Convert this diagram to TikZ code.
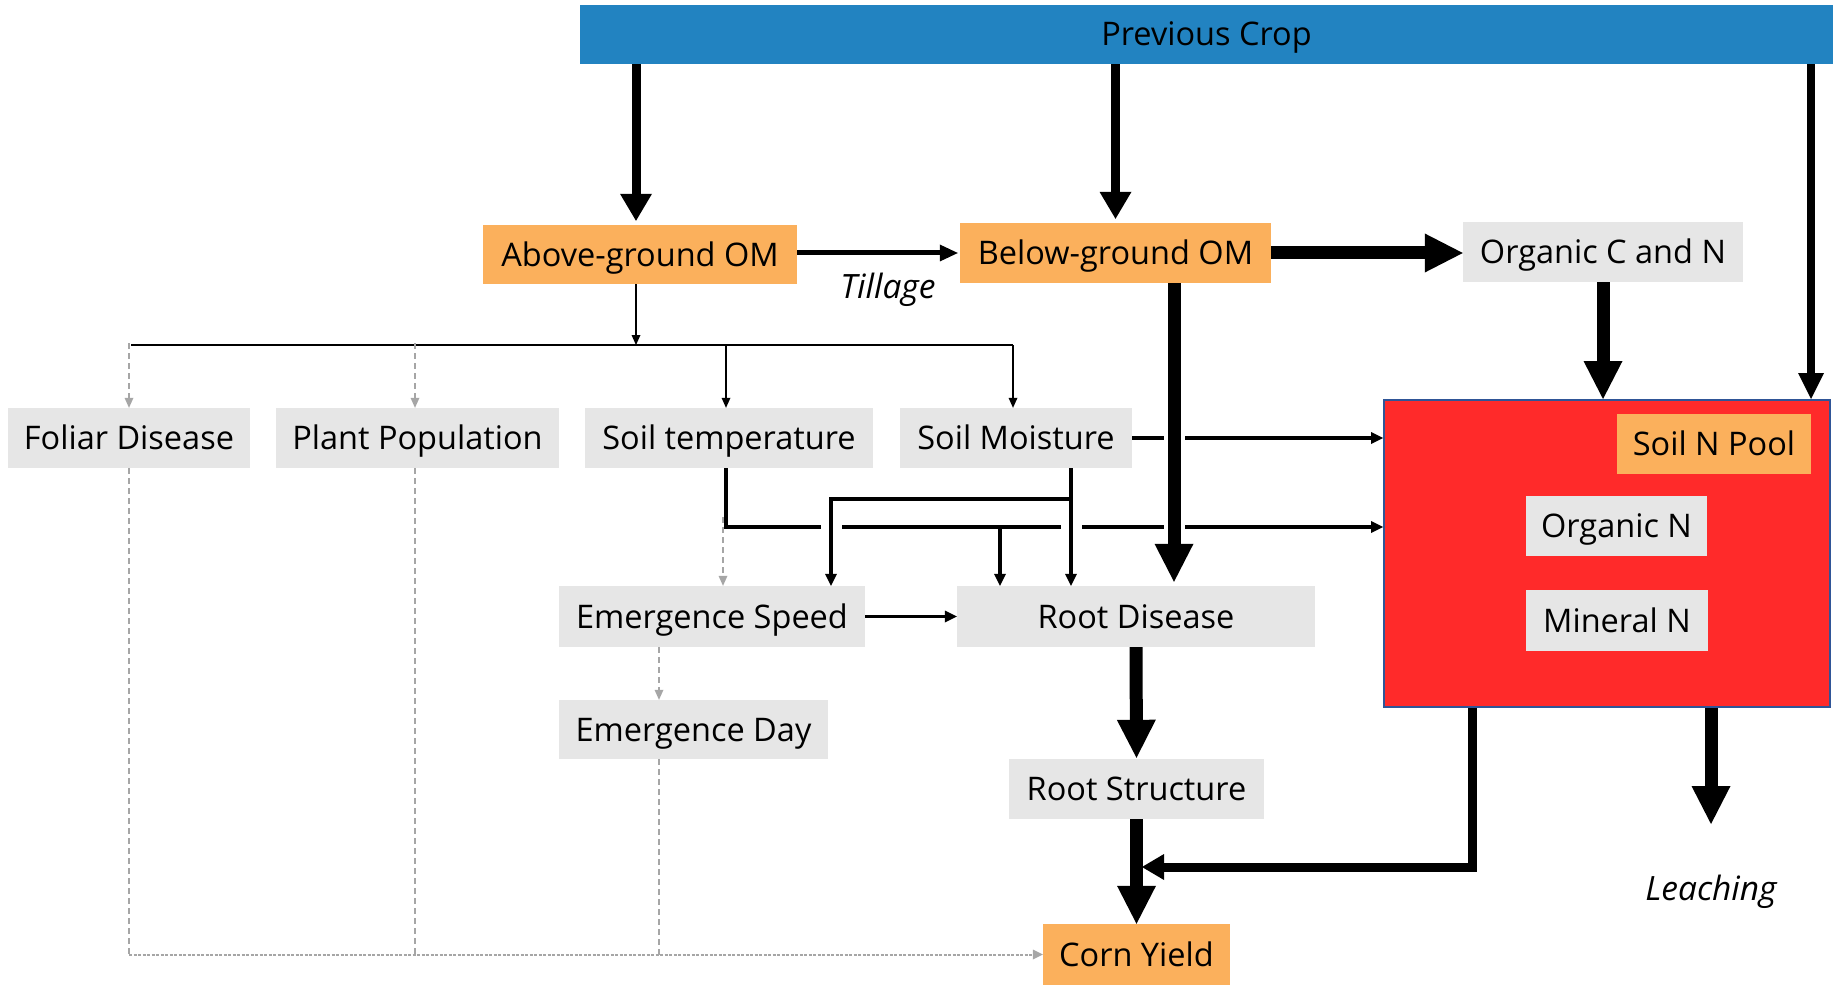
\documentclass[tikz,border=0pt]{standalone}
\usepackage{fontspec}
\setmainfont{Open Sans}
\usetikzlibrary{arrows.meta}
\definecolor{cBlue}{RGB}{34,131,193}
\definecolor{cOrange}{RGB}{251,176,92}
\definecolor{cGray}{RGB}{230,230,230}
\definecolor{cRed}{RGB}{255,42,42}
\definecolor{cEdge}{RGB}{47,85,151}
\definecolor{cDash}{RGB}{166,166,166}
\begin{document}
\begin{tikzpicture}[x=1pt,y=-1pt,
  txt/.style={font=\fontsize{32.5}{38}\selectfont},
  bx/.style={txt, inner sep=0pt, text height=23pt, text depth=0pt},
  ob/.style={bx, fill=cOrange},
  gb/.style={bx, fill=cGray},
  itl/.style={font=\itshape\fontsize{33.5}{38}\selectfont, inner sep=0pt, text height=23pt, text depth=0pt},
  bigarr/.style={line width=13pt, -{Triangle[length=38pt 0 0,width=39pt 0 0,line width=0pt 0 0]}},
  croparr/.style={line width=9pt, -{Triangle[length=27pt 0 0,width=32pt 0 0,line width=0pt 0 0]}},
  rarr/.style={line width=8pt, -{Triangle[length=26pt 0 0,width=26pt 0 0,line width=0pt 0 0]}},
  tarr/.style={line width=5pt, -{Triangle[length=18pt 0 0,width=17pt 0 0,line width=0pt 0 0]}},
  sidearr/.style={line width=9pt, -{Triangle[length=22pt 0 0,width=26pt 0 0,line width=0pt 0 0]}},
  medarr/.style={line width=3.5pt, -{Triangle[length=12pt 0 0,width=12pt 0 0,line width=0pt 0 0]}},
  thinarr/.style={line width=1.5pt, -{Triangle[length=10pt 0 0,width=9pt 0 0,line width=0pt 0 0]}},
  grayarr/.style={draw=cDash, line width=1.5pt, dash pattern=on 6pt off 4pt, -{Triangle[length=10pt 0 0,width=9pt 0 0,line width=0pt 0 0,fill=cDash]}},
  grayline/.style={draw=cDash, line width=1.5pt, dash pattern=on 6pt off 4pt},
  graydot/.style={draw=cDash, line width=2pt, dash pattern=on 3pt off 1.5pt, -{Triangle[length=10pt 0 0,width=10pt 0 0,line width=0pt 0 0,fill=cDash]}},
  halo/.style={preaction={draw=white, line width=#1, arrows=-}}
]
\useasboundingbox (0,0) rectangle (1835,1000);

% ---------- nodes ----------
\node[bx, fill=cBlue, minimum width=1253pt, minimum height=59pt] (prev) at (1206.5,34.5) {Previous Crop};
\node[ob, minimum width=314pt, minimum height=59pt] (abv) at (640,254.5) {Above-ground OM};
\node[ob, minimum width=311pt, minimum height=60pt] (blw) at (1115.5,253) {Below-ground OM};
\node[gb, minimum width=280pt, minimum height=60pt] (ocn) at (1603,252) {Organic C and N};
\node[gb, minimum width=242pt, minimum height=60pt] (fol) at (129,438) {Foliar Disease};
\node[gb, minimum width=283pt, minimum height=60pt] (pop) at (417.5,438) {Plant Population};
\node[gb, minimum width=288pt, minimum height=60pt] (stp) at (729,438) {Soil temperature};
\node[gb, minimum width=232pt, minimum height=60pt] (smo) at (1016,438) {Soil Moisture};
\node[gb, minimum width=306pt, minimum height=61pt] (esp) at (712,616.5) {Emergence Speed};
\node[gb, minimum width=358pt, minimum height=61pt] (rdi) at (1136,616.5) {Root Disease};
\node[gb, minimum width=269pt, minimum height=59pt] (eday) at (693.5,729.5) {Emergence Day};
\node[gb, minimum width=255pt, minimum height=60pt] (rst) at (1136.5,789) {Root Structure};
\node[ob, minimum width=187pt, minimum height=61pt] (corn) at (1136.5,954.5) {Corn Yield};
\node[fill=cRed, draw=cEdge, line width=2pt, minimum width=446pt, minimum height=307pt, inner sep=0pt] (pool) at (1607,553.5) {};
\node[ob, minimum width=194pt, minimum height=60pt] (snp) at (1714,444) {Soil N Pool};
\node[gb, minimum width=181pt, minimum height=60pt] (orgn) at (1616.5,526) {Organic N};
\node[gb, minimum width=182pt, minimum height=61pt] (minn) at (1617,620.5) {Mineral N};
\node[itl] (till) at (888,287) {Tillage};
\node[itl] (leach) at (1711,889) {Leaching};

% ---------- helper coordinates ----------
\coordinate (abvin) at ([xshift=-4pt]abv.north);
\coordinate (abvout) at ([xshift=-4pt]abv.south);
\coordinate (poolin) at ([xshift=204pt]pool.north);
\coordinate (hub) at (636,345);
\coordinate (tempRow) at (0,527);
\coordinate (smj) at (1071,499);
\coordinate (espin) at ([xshift=119pt]esp.north);
\coordinate (rdbr) at (1000,527);
\coordinate (gtop) at (723,517);
\coordinate (edx) at (659,0);
\coordinate (blwout) at ([xshift=58.5pt]blw.south);
\coordinate (side) at (1142,867);
\coordinate (poolj) at ([xshift=-134.5pt]pool.south);
\coordinate (leachtip) at (1711,824);

% ---------- previous crop arrows ----------
\draw[croparr, shorten >=4pt] (prev.south -| abvin) -- (abvin);
\draw[croparr, shorten >=4pt] (prev.south -| blw.north) -- (blw.north);
\draw[rarr] (prev.south -| poolin) -- (poolin);

% ---------- OM arrows ----------
\draw[tarr, shorten >=2pt] (abv.east |- blw.west) -- (blw.west);
\draw[bigarr] (blw.east) -- (blw.east -| ocn.west);
\draw[bigarr] (ocn.south) -- (ocn.south |- pool.north);

% ---------- branch from above-ground OM ----------
\draw[thinarr] (abvout) -- (abvout |- hub);
\draw[line width=1.5pt] ([xshift=2pt]fol.north |- hub) -- ([xshift=-3pt]smo.north |- hub);
\draw[grayarr] ([yshift=2pt]fol.north |- hub) -- (fol.north);
\draw[grayarr] ([xshift=-2.5pt,yshift=2pt]pop.north |- hub) -- ([xshift=-2.5pt]pop.north);
\draw[thinarr] ([xshift=-3pt]stp.north |- hub) -- ([xshift=-3pt]stp.north);
\draw[thinarr] ([xshift=-3pt]smo.north |- hub) -- ([xshift=-3pt]smo.north);

% ---------- soil temperature / moisture ----------
\draw[medarr] (smo.east) -- (smo.east -| pool.west);
\draw[medarr] ([xshift=-3pt]stp.south) |- (tempRow -| pool.west);
\draw[medarr] (rdbr) -- (rdbr |- rdi.north);
\draw[draw=white, line width=21pt] (smj) -| (espin);
\draw[medarr, halo=21pt] ([xshift=55pt]smo.south) -- ([xshift=55pt]smo.south |- rdi.north);
\draw[medarr] (smj) -| (espin);
\draw[bigarr, halo=21pt, shorten >=4pt] (blwout) -- (blwout |- rdi.north);
\draw[medarr] (esp.east) -- (rdi.west);

% ---------- gray dashed ----------
\draw[grayarr] (gtop) -- (gtop |- esp.north);
\draw[grayarr] (edx |- esp.south) -- (edx |- eday.north);
\draw[grayline] (fol.south) -- (fol.south |- corn.west);
\draw[grayline] ([xshift=-2.5pt]pop.south) -- ([xshift=-2.5pt]pop.south |- corn.west);
\draw[grayline] (edx |- eday.south) -- (edx |- corn.west);
\draw[graydot] (fol.south |- corn.west) -- (corn.west);

% ---------- lower thick arrows ----------
\draw[bigarr, shorten >=1pt] (rdi.south) -- (rst.north);
\draw[bigarr] (rst.south) -- (corn.north);
\draw[sidearr] (poolj) |- (side);
\draw[bigarr] ([xshift=104pt]pool.south) -- (leachtip);
\end{tikzpicture}
\end{document}
